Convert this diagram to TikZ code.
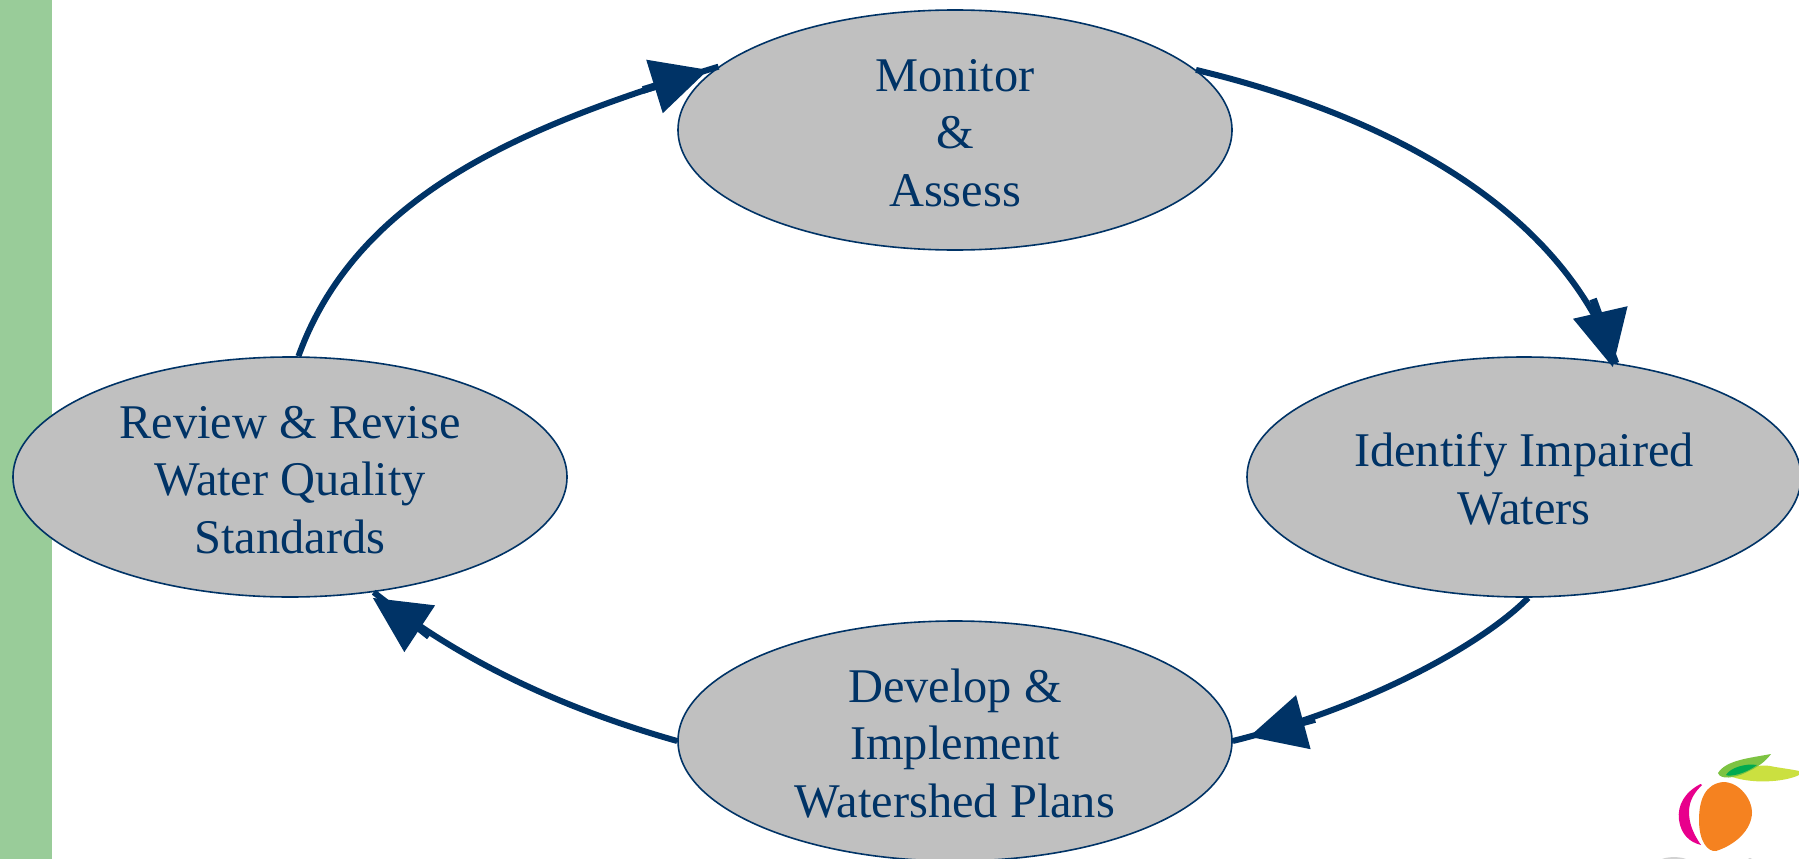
\documentclass[tikz,border=0pt]{standalone}
\usepackage{fontspec}
\setmainfont{Liberation Serif}
\usetikzlibrary{arrows.meta,decorations.markings,shapes.geometric}
\definecolor{navy}{HTML}{003366}
\definecolor{oval}{HTML}{C0C0C0}
\definecolor{bar}{HTML}{99CC99}
\definecolor{logopink}{RGB}{232,0,140}
\definecolor{logoorange}{RGB}{245,130,32}
\definecolor{logolime}{RGB}{203,224,64}
\definecolor{logoleaf}{RGB}{125,195,66}
\definecolor{logogreen}{RGB}{0,170,80}
\newcommand{\topfix}{\rule{0pt}{38pt}}
\tikzset{
  stage/.style={ellipse,draw=navy,fill=oval,line width=1.6pt,minimum width=554pt,minimum height=240pt,inner sep=0pt,text=navy,align=center,font=\fontsize{48.4}{57.5}\selectfont},
  link/.style={draw=navy,line width=6pt},
  headat/.style n args={4}{postaction={decorate},decoration={markings,mark=at position #1 with {\fill[navy] (-68pt,-3.8pt) rectangle (-50pt,3.8pt);\fill[navy,shift={(#3pt,#4pt)},rotate=#2] (0pt,0pt) -- (-56pt,28pt) -- (-56pt,-28pt) -- cycle;}}}
}
\begin{document}
\begin{tikzpicture}[x=1pt,y=-1pt]
\useasboundingbox (0,0) rectangle (1799,859);
\fill[white] (0,0) rectangle (1799,859);
\fill[bar] (0,0) rectangle (52,859);
\node[stage] (mon) at (955,130) {\topfix Monitor\\\&\\Assess};
\node[stage] (idw) at (1524,477) {\topfix Identify Impaired\\Waters};
\node[stage] (rev) at (290,477) {\topfix Review \& Revise\\Water Quality\\Standards};
\node[stage] (dev) at (955,741) {\topfix Develop \&\\Implement\\Watershed Plans};
\draw[link,headat={-11pt}{0}{0}{0}] (rev.86.6) .. controls (360,185) and (545,120) .. (mon.165.4);
\draw[link,headat={-0.1pt}{-7}{2.7}{-4.6}] (mon.14.4) .. controls (1360,109) and (1555,194) .. (idw.51);
\draw[link,headat={-17pt}{0}{0}{0}] (idw.272.4) .. controls (1487,640) and (1377,705) .. (dev.0);
\draw[link,headat={-3pt}{5}{0}{5}] (dev.180) .. controls (571,711) and (465,665) .. (rev.306.5);
% logo
\fill[logopink] (1700.5,784) .. controls (1685,792) and (1677,805) .. (1679,820) .. controls (1681,834) and (1689,842) .. (1701,845) .. controls (1692,832) and (1689,822) .. (1689,812) .. controls (1689,800) and (1695,792) .. (1702,785) -- cycle;
\fill[logoorange] (1723,782) .. controls (1740,782) and (1752,800) .. (1752,812) .. controls (1752,830) and (1735,845) .. (1716,851) .. controls (1708,852) and (1699,842) .. (1699,820) .. controls (1699,800) and (1705,784) .. (1723,782) -- cycle;
\fill[logolime] (1727,775) .. controls (1745,768) and (1760,764) .. (1770,766) .. controls (1780,768) and (1790,769) .. (1799,771) -- (1799,775) .. controls (1785,782) and (1750,785) .. (1727,775) -- cycle;
\fill[logoleaf] (1771,754) .. controls (1750,758) and (1726,760) .. (1718,773) .. controls (1720,780) and (1735,778) .. (1745,773) .. controls (1758,767) and (1765,762) .. (1771,754) -- cycle;
\fill[logogreen] (1757,765) .. controls (1745,763) and (1730,768) .. (1726,775) .. controls (1730,777) and (1745,774) .. (1757,765) -- cycle;
\fill[gray!35] (1662,859) .. controls (1668,856.5) and (1680,856.5) .. (1686,859) -- cycle;
\fill[gray!35] (1748,859) .. controls (1749,857.5) and (1751,857.5) .. (1752,859) -- cycle;
\end{tikzpicture}
\end{document}
